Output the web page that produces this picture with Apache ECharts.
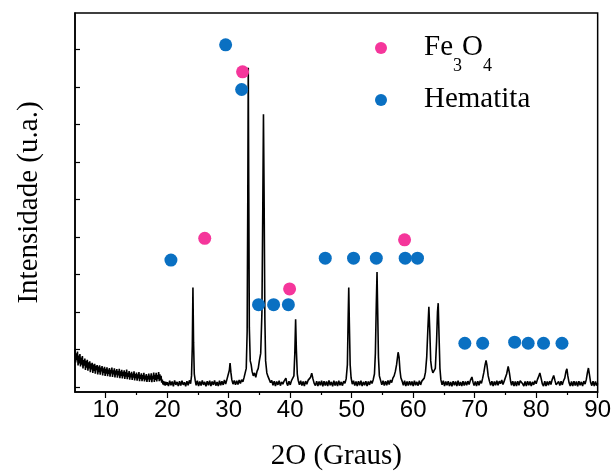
<!DOCTYPE html>
<html><head><meta charset="utf-8">
<script src="https://cdn.jsdelivr.net/npm/echarts@6/dist/echarts.min.js"></script>
<style>html,body{margin:0;padding:0;background:#fff}#c{width:614px;height:476px}</style>
</head><body><div id="c"></div>
<script>
// XRD scan, [2theta, intensity (a.u.)]
const scanA = [[5.0,101],[5.1,66],[5.2,90],[5.3,72],[5.4,95],[5.5,58],[5.6,84],[5.7,63],[5.8,88],[5.9,55],[6.0,79],[6.1,60],[6.2,83],[6.3,50],[6.4,72],[6.5,57],[6.6,76],[6.7,46],[6.8,70],[6.9,52],[7.0,73],[7.1,44],[7.2,66],[7.3,50],[7.4,69],[7.5,40],[7.6,63],[7.7,47],[7.8,65],[7.9,38],[8.0,60],[8.1,43],[8.2,62],[8.3,36],[8.4,57],[8.5,45],[8.6,59],[8.7,34],[8.8,55],[8.9,40],[9.0,58],[9.1,33],[9.2,52],[9.3,42],[9.4,56],[9.5,31],[9.6,50],[9.7,38],[9.8,54],[9.9,30],[10.0,49],[10.1,36],[10.2,53],[10.3,29],[10.4,47],[10.5,35],[10.6,51],[10.7,28],[10.8,46],[10.9,37],[11.0,52],[11.1,27],[11.2,45],[11.3,34],[11.4,50],[11.5,26],[11.6,44],[11.7,33],[11.8,48],[11.9,25],[12.0,43],[12.1,31],[12.2,49],[12.3,24],[12.4,42],[12.5,30],[12.6,46],[12.7,23],[12.8,41],[12.9,29],[13.0,45],[13.1,22],[13.2,40],[13.3,28],[13.4,47],[13.5,21],[13.6,38],[13.7,27],[13.8,43],[13.9,20],[14.0,37],[14.1,26],[14.2,41],[14.3,19],[14.4,36],[14.5,25],[14.6,42],[14.7,18],[14.8,35],[14.9,24],[15.0,39],[15.1,17],[15.2,34],[15.3,23],[15.4,40],[15.5,16],[15.6,33],[15.7,22],[15.8,37],[15.9,16],[16.0,32],[16.1,21],[16.2,38],[16.3,15],[16.4,31],[16.5,20],[16.6,35],[16.7,14],[16.8,30],[16.9,21],[17.0,36],[17.1,14],[17.2,31],[17.3,20],[17.4,37],[17.5,13],[17.6,30],[17.7,22],[17.8,39],[17.9,14],[18.0,33],[18.1,19],[18.2,38],[18.3,15],[18.4,32],[18.5,22],[18.6,40],[18.7,16],[18.8,34],[18.9,18],[19.0,30],[19.1,12],[19.2,20],[19.3,7],[19.4,16],[19.5,5],[19.6,15],[19.7,4],[19.8,14],[19.9,6],[20.0,13]];
const scanB = [[20.2,3],[20.4,17],[20.6,5],[20.8,15],[21.0,2],[21.2,18],[21.4,6],[21.6,14],[21.8,3],[22.0,16],[22.2,4],[22.4,17],[22.6,6],[22.8,13],[23.0,2],[23.2,16],[23.4,5],[23.6,18],[23.8,9],[23.95,30],[24.08,110],[24.18,266],[24.28,120],[24.4,35],[24.55,18],[24.7,5],[24.9,17],[25.1,3],[25.3,15],[25.5,4],[25.7,18],[25.9,6],[26.1,14],[26.3,2],[26.5,16],[26.7,5],[26.9,17],[27.1,3],[27.3,15],[27.5,6],[27.7,18],[27.9,4],[28.1,14],[28.3,3],[28.5,17],[28.7,5],[28.9,16],[29.1,6],[29.3,19],[29.5,8],[29.7,20],[29.9,22],[30.1,45],[30.22,64],[30.35,40],[30.5,20],[30.7,8],[30.9,18],[31.1,6],[31.3,17],[31.5,7],[31.7,19],[31.9,10],[32.1,20],[32.3,14],[32.5,26],[32.7,30],[32.85,50],[33.0,150],[33.1,500],[33.18,852],[33.26,520],[33.35,160],[33.5,70],[33.65,60],[33.8,42],[34.0,30],[34.2,38],[34.4,26],[34.6,42],[34.8,50],[35.0,72],[35.2,90],[35.4,200],[35.55,500],[35.65,728],[35.75,520],[35.88,180],[36.0,70],[36.2,38],[36.4,28],[36.6,20],[36.8,12]];
const scanC = [[37.0,18],[37.2,5],[37.4,16],[37.6,3],[37.8,15],[38.0,6],[38.2,17],[38.4,4],[38.6,14],[38.8,8],[39.0,16],[39.15,18],[39.3,24],[39.45,10],[39.6,4],[39.8,16],[40.0,6],[40.2,17],[40.4,14],[40.6,30],[40.75,90],[40.88,181],[41.0,100],[41.15,35],[41.3,18],[41.5,6],[41.7,17],[41.9,4],[42.1,15],[42.3,3],[42.5,16],[42.7,8],[42.9,18],[43.1,14],[43.3,26],[43.5,37],[43.7,22],[43.9,10],[44.1,4],[44.3,16],[44.5,3],[44.7,15],[44.9,5],[45.1,17],[45.3,2],[45.5,16],[45.7,4],[45.9,15],[46.1,3],[46.3,18],[46.5,5],[46.7,14],[46.9,2],[47.1,17],[47.3,4],[47.5,15],[47.7,3],[47.9,17],[48.1,5],[48.3,14],[48.5,4],[48.7,16],[48.9,10],[49.1,22],[49.3,60],[49.42,180],[49.52,266],[49.62,170],[49.75,60],[49.9,25],[50.1,8],[50.3,17],[50.5,4],[50.7,15],[50.9,3],[51.1,16],[51.3,5],[51.5,17],[51.7,3],[51.9,14],[52.1,5],[52.3,16],[52.5,3],[52.7,15],[52.9,6],[53.1,17],[53.3,10],[53.5,20],[53.7,35],[53.85,90],[54.0,220],[54.12,307],[54.22,210],[54.35,80],[54.5,30],[54.7,18],[54.9,6],[55.1,17],[55.3,4],[55.5,16],[55.7,5],[55.9,18],[56.1,7],[56.3,19],[56.5,12],[56.7,24],[56.9,30],[57.1,42],[57.3,60],[57.55,93],[57.7,80],[57.85,45],[58.0,25],[58.2,16],[58.4,5],[58.6,17],[58.8,3],[59.0,15],[59.2,4],[59.4,16],[59.6,5],[59.8,15],[60.0,3],[60.2,17],[60.4,5],[60.6,14],[60.8,4],[61.0,17],[61.2,6],[61.4,16],[61.6,14],[61.8,24],[62.0,40],[62.2,80],[62.4,160],[62.55,214],[62.7,150],[62.85,70],[63.0,50],[63.2,38],[63.4,36],[63.6,50],[63.8,120],[63.95,200],[64.07,224],[64.2,140],[64.35,50],[64.5,20],[64.7,6],[64.9,17],[65.1,3],[65.3,15],[65.5,5],[65.7,16],[65.9,3],[66.1,14],[66.3,2],[66.5,16],[66.7,5],[66.9,15]];
const scanD = [[67.1,3],[67.3,17],[67.5,4],[67.7,14],[67.9,3],[68.1,16],[68.3,4],[68.5,15],[68.7,5],[68.9,16],[69.1,7],[69.3,18],[69.55,27],[69.75,12],[69.9,4],[70.1,15],[70.3,3],[70.5,16],[70.7,5],[70.9,17],[71.1,10],[71.3,24],[71.5,40],[71.7,60],[71.85,71],[72.0,58],[72.2,30],[72.4,16],[72.6,5],[72.8,16],[73.0,3],[73.2,15],[73.4,5],[73.6,17],[73.8,5],[74.0,16],[74.2,9],[74.4,19],[74.6,7],[74.8,16],[75.0,14],[75.2,35],[75.45,55],[75.65,38],[75.85,15],[76.0,5],[76.2,16],[76.4,3],[76.6,15],[76.8,3],[77.0,16],[77.2,5],[77.4,17],[77.6,22],[77.8,9],[78.0,3],[78.2,15],[78.4,3],[78.6,16],[78.8,5],[79.0,15],[79.2,3],[79.4,14],[79.6,6],[79.8,17],[80.0,9],[80.2,20],[80.4,28],[80.6,38],[80.8,24],[81.0,9],[81.2,3],[81.4,16],[81.6,3],[81.8,15],[82.0,5],[82.2,16],[82.4,7],[82.6,20],[82.85,31],[83.05,18],[83.25,6],[83.45,3],[83.65,15],[83.85,4],[84.05,16],[84.25,6],[84.45,17],[84.65,24],[84.85,42],[85.0,49],[85.15,30],[85.35,12],[85.55,3],[85.75,15],[85.95,3],[86.15,16],[86.35,4],[86.55,15],[86.75,2],[86.95,16],[87.15,5],[87.35,14],[87.55,3],[87.75,16],[87.95,8],[88.15,20],[88.35,40],[88.5,51],[88.65,35],[88.85,13],[89.05,4],[89.25,16],[89.45,3],[89.65,15],[89.85,4],[90.0,10]];

// phase markers [2theta, height]
const fe3o4Marks = [[26.1,397],[32.25,841],[39.9,262],[58.6,393]];
const hematitaMarks = [[20.6,339],[29.5,913],[32.1,794],[34.85,220],[37.3,220],[39.7,220],[45.7,344],[50.3,344],[54.0,344],[58.7,344],[60.7,344],[68.4,117],[71.3,117],[76.5,120],[78.7,117],[81.2,117],[84.2,117]];

const xMajorTicks = [10,20,30,40,50,60,70,80,90];
const xMinorTicks = [15,25,35,45,55,65,75,85];
const yTicks = [0,100,200,300,400,500,600,700,800,900];

const serif = 'Liberation Serif';
const sans = 'Liberation Sans';
const chart = echarts.init(document.getElementById('c'), null, {renderer:'canvas'});
chart.setOption({
  animation:false,
  backgroundColor:'#fff',
  grid:{left:75,right:15,top:13,bottom:81,show:true,borderColor:'#000',borderWidth:1.5,backgroundColor:'transparent'},
  legend:{
    orient:'vertical', left:375, top:33, itemGap:10, itemWidth:12, itemHeight:12,
    data:['Fe3O4','Hematita'],
    formatter:function(n){return n==='Fe3O4' ? '{f|Fe}{s|3}{n|O}{s|4}' : '{f|Hematita}';},
    textStyle:{fontFamily:serif,color:'#000',rich:{
      f:{fontFamily:serif,fontSize:29,color:'#000',lineHeight:30,verticalAlign:'top',padding:[0,0,0,32]},
      n:{fontFamily:serif,fontSize:29,color:'#000',lineHeight:30,verticalAlign:'top'},
      s:{fontFamily:serif,fontSize:18,color:'#000',lineHeight:14,verticalAlign:'top',padding:[24,0,0,0]}
    }},
    padding:0
  },
  xAxis:[{
    type:'value',min:5,max:90,interval:5,
    name:'2O (Graus)',nameLocation:'middle',nameGap:50,
    nameTextStyle:{fontFamily:serif,fontSize:29,color:'#000'},
    axisLine:{show:true,onZero:false,lineStyle:{color:'#000',width:1.5}},
    axisTick:{show:true,inside:false,length:6,customValues:xMajorTicks,lineStyle:{color:'#000',width:1.2}},
    axisLabel:{show:true,customValues:xMajorTicks,fontFamily:sans,fontSize:24,color:'#000',margin:6},
    splitLine:{show:false}
  },{
    type:'value',min:5,max:90,interval:5,position:'bottom',
    axisLine:{show:false,onZero:false},
    axisTick:{show:true,length:3,customValues:xMinorTicks,lineStyle:{color:'#000',width:1.2}},
    axisLabel:{show:false},
    splitLine:{show:false}
  }],
  yAxis:{
    type:'value',min:-13,max:998,
    name:'Intensidade (u.a.)',nameLocation:'middle',nameGap:31,
    nameTextStyle:{fontFamily:serif,fontSize:29,color:'#000'},
    axisLine:{show:true,onZero:false,lineStyle:{color:'#000',width:1.5}},
    axisTick:{show:true,inside:true,length:5,customValues:yTicks,lineStyle:{color:'#000',width:1.2}},
    axisLabel:{show:false},
    splitLine:{show:false}
  },
  series:[
    {type:'line',name:'XRD',data:[].concat(scanA,scanB,scanC,scanD),showSymbol:false,symbol:'none',
     lineStyle:{color:'#000',width:1.6},itemStyle:{color:'#000'},z:2,silent:true},
    {type:'scatter',name:'Fe3O4',data:fe3o4Marks,symbol:'circle',symbolSize:13,itemStyle:{color:'#F5369B',opacity:1},z:3},
    {type:'scatter',name:'Hematita',data:hematitaMarks,symbol:'circle',symbolSize:13,itemStyle:{color:'#0A70C2',opacity:1},z:3}
  ]
});
</script></body></html>
